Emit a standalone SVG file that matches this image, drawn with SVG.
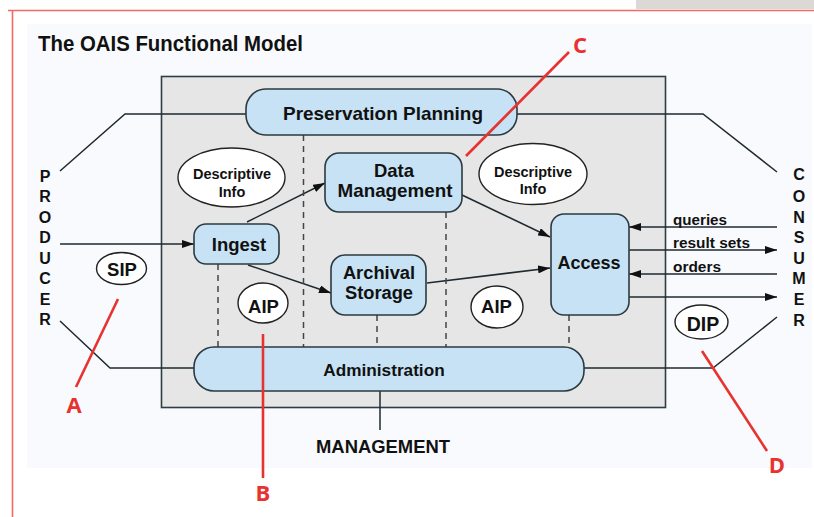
<svg xmlns="http://www.w3.org/2000/svg" width="814" height="517" viewBox="0 0 814 517">
  <style>
    .box { fill: #c6e2f4; stroke: #2b3a40; stroke-width: 1.6; }
    .oval { fill: #ffffff; stroke: #222; stroke-width: 1.4; }
    .ln { fill: none; stroke: #1e2a30; stroke-width: 1.5; }
    .dash { fill: none; stroke: #444; stroke-width: 1.5; stroke-dasharray: 6 5; }
    .lbl { font-family: "Liberation Sans", Arial, sans-serif; font-weight: bold; fill: #111; text-anchor: middle; }
    .side { font-family: "Liberation Sans", Arial, sans-serif; font-weight: bold; fill: #111; text-anchor: middle; font-size: 16px; }
    .red { fill: none; stroke: #e8322f; stroke-width: 2.6; }
    .redtxt { font-family: "Open Sans", "Liberation Sans", sans-serif; font-weight: bold; fill: #e8322f; text-anchor: middle; font-size: 22px; }
  </style>
  <defs>
    <marker id="arr" viewBox="0 0 12 8" refX="12" refY="4" markerWidth="12" markerHeight="8" markerUnits="userSpaceOnUse" orient="auto">
      <path d="M0,0 L12,4 L0,8 Z" fill="#111"/>
    </marker>
  </defs>

  <!-- page frame -->
  <rect x="0" y="0" width="814" height="517" fill="#ffffff"/>
  <rect x="636" y="0" width="178" height="9" fill="#dcd8d5"/>
  <path d="M8,10.5 H814 M12.5,10 V517" fill="none" stroke="#f06a66" stroke-width="1.6"/>
  <rect x="27" y="24" width="785" height="444" fill="#f8fafd"/>

  <text x="38" y="51" font-family="Liberation Sans, Arial, sans-serif" font-weight="bold" font-size="22" fill="#111" textLength="265" lengthAdjust="spacingAndGlyphs">The OAIS Functional Model</text>

  <!-- OAIS panel -->
  <rect x="161.5" y="76.5" width="504" height="331" fill="#e6e6e6" stroke="#2e3e44" stroke-width="1.6"/>

  <!-- connectors -->
  <g id="connectors">
    <path class="ln" d="M60,171 L125,114 H246"/>
    <path class="ln" d="M517,114 H703 L777,172"/>
    <path class="ln" d="M60,321 L110,368 H194"/>
    <path class="ln" d="M584,368 H713 L777,317"/>
    <path class="ln" d="M380,391 V430"/>
    <path class="ln" d="M60,244 H194" marker-end="url(#arr)"/>
    <path class="ln" d="M247,222 L325,183" marker-end="url(#arr)"/>
    <path class="ln" d="M248,265 L331,293" marker-end="url(#arr)"/>
    <path class="ln" d="M462,195 L550,237" marker-end="url(#arr)"/>
    <path class="ln" d="M427,283 L550,268" marker-end="url(#arr)"/>
    <path class="ln" d="M777,227 H629" marker-end="url(#arr)"/>
    <path class="ln" d="M629,250 H777" marker-end="url(#arr)"/>
    <path class="ln" d="M777,274 H629" marker-end="url(#arr)"/>
    <path class="ln" d="M629,297 H777" marker-end="url(#arr)"/>
    <path class="dash" d="M218,264 V347"/>
    <path class="dash" d="M303.5,135 V347"/>
    <path class="dash" d="M446,212 V347"/>
    <path class="dash" d="M377,315 V347"/>
    <path class="dash" d="M569,315 V347"/>
  </g>

  <!-- flow labels -->
  <g class="lbl" font-size="14.5" text-anchor="start" style="text-anchor:start">
    <text x="673" y="225" textLength="54" lengthAdjust="spacingAndGlyphs">queries</text>
    <text x="673" y="248" textLength="77" lengthAdjust="spacingAndGlyphs">result sets</text>
    <text x="673" y="272" textLength="48" lengthAdjust="spacingAndGlyphs">orders</text>
  </g>

  <!-- functional entities -->
  <g id="preservation-planning">
    <rect class="box" x="246" y="89" width="271" height="46" rx="20"/>
    <text class="lbl" x="383" y="120" font-size="18.5" textLength="200" lengthAdjust="spacingAndGlyphs">Preservation Planning</text>
  </g>
  <g id="data-management">
    <rect class="box" x="325" y="153" width="137" height="59" rx="14"/>
    <text class="lbl" x="394" y="177" font-size="18.5">Data</text>
    <text class="lbl" x="395" y="197" font-size="18.5" textLength="115" lengthAdjust="spacingAndGlyphs">Management</text>
  </g>
  <g id="ingest">
    <rect class="box" x="194" y="224" width="85" height="40" rx="12"/>
    <text class="lbl" x="239" y="251" font-size="18.5">Ingest</text>
  </g>
  <g id="archival-storage">
    <rect class="box" x="331" y="255" width="95" height="60" rx="14"/>
    <text class="lbl" x="379" y="279" font-size="18.3">Archival</text>
    <text class="lbl" x="379" y="299" font-size="18.3">Storage</text>
  </g>
  <g id="access">
    <rect class="box" x="551" y="214" width="78" height="101" rx="13"/>
    <text class="lbl" x="589" y="269" font-size="18">Access</text>
  </g>
  <g id="administration">
    <rect class="box" x="194" y="347" width="390" height="44" rx="20"/>
    <text class="lbl" x="384" y="376" font-size="17.2">Administration</text>
  </g>

  <!-- information packages -->
  <g id="descriptive-info-left">
    <ellipse class="oval" cx="231.5" cy="177.5" rx="53.5" ry="29.5"/>
    <text class="lbl" x="232" y="179" font-size="14.5">Descriptive</text>
    <text class="lbl" x="232" y="197" font-size="14.5">Info</text>
  </g>
  <g id="descriptive-info-right">
    <ellipse class="oval" cx="533" cy="174" rx="54" ry="30.5"/>
    <text class="lbl" x="533" y="177" font-size="14.5">Descriptive</text>
    <text class="lbl" x="533" y="194" font-size="14.5">Info</text>
  </g>
  <g id="sip">
    <ellipse class="oval" cx="121.5" cy="268.5" rx="25" ry="16"/>
    <text class="lbl" x="122" y="276" font-size="18.5">SIP</text>
  </g>
  <g id="aip-left">
    <ellipse class="oval" cx="263" cy="303" rx="25" ry="20"/>
    <text class="lbl" x="263.5" y="313" font-size="18.5">AIP</text>
  </g>
  <g id="aip-right">
    <ellipse class="oval" cx="497" cy="307" rx="26" ry="21"/>
    <text class="lbl" x="496.5" y="313" font-size="18.5">AIP</text>
  </g>
  <g id="dip">
    <ellipse class="oval" cx="701.5" cy="322" rx="26.5" ry="17"/>
    <text class="lbl" x="703" y="331" font-size="19.5">DIP</text>
  </g>

  <!-- external actors -->
  <g id="producer" class="side">
    <text x="45" y="181.5">P</text>
    <text x="45" y="202">R</text>
    <text x="45" y="222.5">O</text>
    <text x="45" y="243">D</text>
    <text x="45" y="263.5">U</text>
    <text x="45" y="284">C</text>
    <text x="45" y="304.5">E</text>
    <text x="45" y="325">R</text>
  </g>
  <g id="consumer" class="side">
    <text x="799" y="180">C</text>
    <text x="799" y="202">O</text>
    <text x="799" y="223">N</text>
    <text x="799" y="243">S</text>
    <text x="799" y="264">U</text>
    <text x="799" y="284">M</text>
    <text x="799" y="305">E</text>
    <text x="799" y="326">R</text>
  </g>
  <g id="management">
    <text class="lbl" x="383" y="453" font-size="18.4" textLength="134" lengthAdjust="spacingAndGlyphs">MANAGEMENT</text>
  </g>

  <!-- callouts -->
  <g id="callouts">
    <path class="red" d="M569,52 L466,156"/>
    <text class="redtxt" x="580" y="53">C</text>
    <path class="red" d="M118,299 L76,387"/>
    <text class="redtxt" x="74" y="413">A</text>
    <path class="red" d="M263,334 V478"/>
    <text class="redtxt" x="263" y="501">B</text>
    <path class="red" d="M702,351 L767,451"/>
    <text class="redtxt" x="777" y="473">D</text>
  </g>
</svg>
